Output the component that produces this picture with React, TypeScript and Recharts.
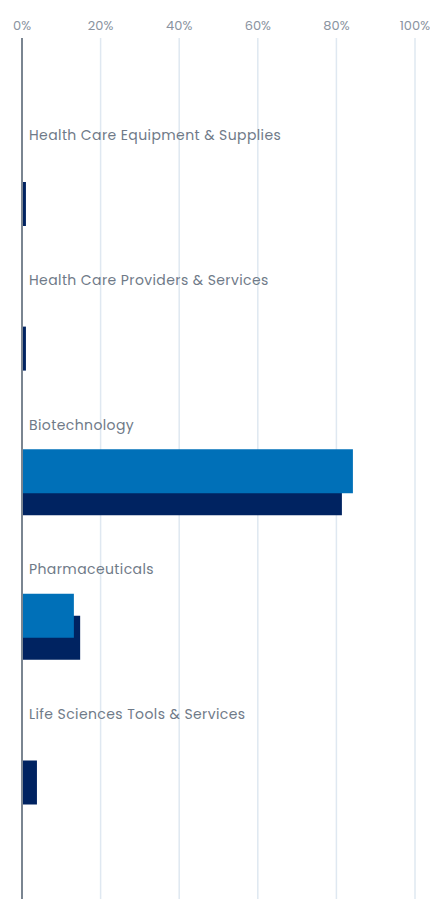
import { BarChart, Bar, XAxis, YAxis, CartesianGrid } from "recharts";

const sectors = [
  "Health Care Equipment & Supplies",
  "Health Care Providers & Services",
  "Biotechnology",
  "Pharmaceuticals",
  "Life Sciences Tools & Services",
];
const fundShare = [0, 0, 84.2, 13.2, 0];
const benchmarkShare = [1, 1, 81.4, 14.8, 3.8];
const pctTicks = [0, 20, 40, 60, 80, 100];

const rows = sectors.map((name, i) => ({
  name,
  fund: fundShare[i],
  benchmark: benchmarkShare[i],
}));

const FONT = "Poppins, 'Open Sans', sans-serif";

function SectorTick(props: any) {
  const { x, y, payload } = props;
  return (
    <text
      x={x + 15}
      y={y - 58}
      dy={5}
      textAnchor="start"
      fill="#6f7a88"
      fontSize={14}
      letterSpacing={0.4}
      fontFamily={FONT}
    >
      {payload.value}
    </text>
  );
}

export default function App() {
  return (
    <div style={{ position: "absolute", left: 0, top: 0 }}>
      <BarChart
        width={430}
        height={899}
        data={rows}
        layout="vertical"
        margin={{ top: 6, right: 15, bottom: 0, left: 21 }}
        barSize={44}
        barGap={-66}
      >
        <CartesianGrid horizontal={false} stroke="#dfe8f1" strokeWidth={1.5} />
        <XAxis
          type="number"
          orientation="top"
          domain={[0, 100]}
          ticks={pctTicks}
          tickFormatter={(v) => `${v}%`}
          axisLine={false}
          tickLine={false}
          height={32}
          tick={{ fill: "#8a93a0", fontSize: 13, fontFamily: FONT }}
        />
        <YAxis
          type="category"
          dataKey="name"
          width={1}
          tickLine={false}
          axisLine={{ stroke: "#7a8591", strokeWidth: 2 }}
          padding={{ top: 83, bottom: 55 }}
          tick={<SectorTick />}
        />
        <Bar dataKey="benchmark" fill="#002361" isAnimationActive={false} />
        <Bar dataKey="fund" fill="#0070b8" isAnimationActive={false} />
      </BarChart>
    </div>
  );
}
